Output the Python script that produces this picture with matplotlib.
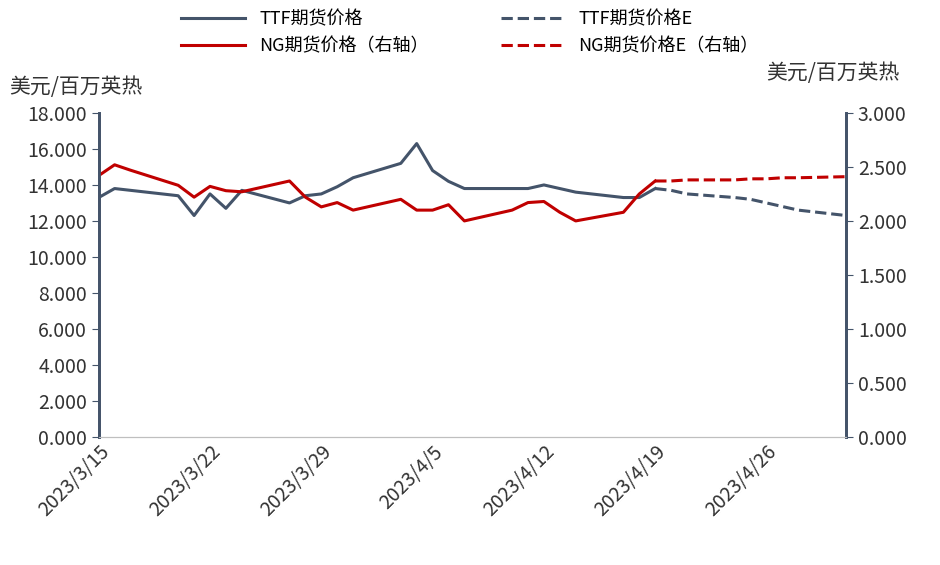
import pandas as pd
import numpy as np
import matplotlib
matplotlib.use('Agg')
import matplotlib.pyplot as plt

plt.rcParams['font.family'] = ['Noto Sans CJK SC', 'DejaVu Sans']

# 实际数据（工作日）
dates = ['2023-03-15', '2023-03-16', '2023-03-17', '2023-03-20', '2023-03-21', '2023-03-22',
         '2023-03-23', '2023-03-24', '2023-03-27', '2023-03-28', '2023-03-29', '2023-03-30',
         '2023-03-31', '2023-04-03', '2023-04-04', '2023-04-05', '2023-04-06', '2023-04-07',
         '2023-04-10', '2023-04-11', '2023-04-12', '2023-04-13', '2023-04-14', '2023-04-17',
         '2023-04-18', '2023-04-19']
ttf = [13.3, 13.8, 13.7, 13.4, 12.3, 13.5, 12.7, 13.7, 13.0, 13.4, 13.5, 13.9,
       14.4, 15.2, 16.3, 14.8, 14.2, 13.8, 13.8, 13.8, 14.0, 13.8, 13.6, 13.3, 13.3, 13.8]
ng = [2.42, 2.52, 2.47, 2.33, 2.22, 2.32, 2.28, 2.27, 2.37, 2.22, 2.13, 2.17,
      2.10, 2.20, 2.10, 2.10, 2.15, 2.00, 2.10, 2.17, 2.18, 2.08, 2.00, 2.08, 2.25, 2.37]

# 预测数据
dates_e = ['2023-04-19', '2023-04-20', '2023-04-21', '2023-04-24', '2023-04-25', '2023-04-26',
           '2023-04-27', '2023-04-28', '2023-05-01']
ttf_e = [13.8, 13.7, 13.5, 13.3, 13.2, 13.0, 12.8, 12.6, 12.3]
ng_e = [2.37, 2.37, 2.38, 2.38, 2.39, 2.39, 2.40, 2.40, 2.41]

d = pd.to_datetime(dates)
de = pd.to_datetime(dates_e)
navy = '#44546A'
red = '#C00000'

fig, ax = plt.subplots(figsize=(9.4, 5.65), dpi=100)
fig.subplots_adjust(left=0.105, right=0.9, top=0.8, bottom=0.227)
ax2 = ax.twinx()

l1, = ax.plot(d, ttf, color=navy, lw=2.2, label='TTF期货价格')
l2, = ax.plot(de, ttf_e, color=navy, lw=2.2, ls='--', label='TTF期货价格E')
l3, = ax2.plot(d, ng, color=red, lw=2.2, label='NG期货价格（右轴）')
l4, = ax2.plot(de, ng_e, color=red, lw=2.2, ls='--', label='NG期货价格E（右轴）')

ax.set_ylim(0, 18)
ax.set_yticks(np.arange(0, 18.1, 2))
ax.set_yticklabels([f'{v:.3f}' for v in np.arange(0, 18.1, 2)])
ax2.set_ylim(0, 3)
ax2.set_yticks(np.arange(0, 3.01, 0.5))
ax2.set_yticklabels([f'{v:.3f}' for v in np.arange(0, 3.01, 0.5)])
ax.set_xlim(pd.Timestamp('2023-03-15'), pd.Timestamp('2023-05-01'))
ticks = pd.date_range('2023-03-15', '2023-04-26', freq='7D')
ax.set_xticks(ticks)
ax.set_xticklabels([f'{t.year}/{t.month}/{t.day}' for t in ticks],
                   rotation=45, ha='right', rotation_mode='anchor')

for a in (ax, ax2):
    a.spines['top'].set_visible(False)
    a.tick_params(labelsize=14, colors='#333333')
    a.spines['bottom'].set_color('#BFBFBF')
    a.spines['left'].set_color(navy)
    a.spines['right'].set_color(navy)
    a.spines['left'].set_linewidth(2)
    a.spines['right'].set_linewidth(2)
ax.tick_params(axis='y', length=5, color=navy)
ax2.tick_params(axis='y', length=5, color=navy)
ax.tick_params(axis='x', length=0)

fig.text(0.01, 0.835, '美元/百万英热', fontsize=15, color='#333333')
fig.text(0.815, 0.86, '美元/百万英热', fontsize=15, color='#333333')

fig.legend(handles=[l1, l3, l2, l4], loc='upper center', ncol=2, frameon=False,
           fontsize=13, bbox_to_anchor=(0.5, 1.01), columnspacing=4, handlelength=3.5)

fig.savefig('out.png')
